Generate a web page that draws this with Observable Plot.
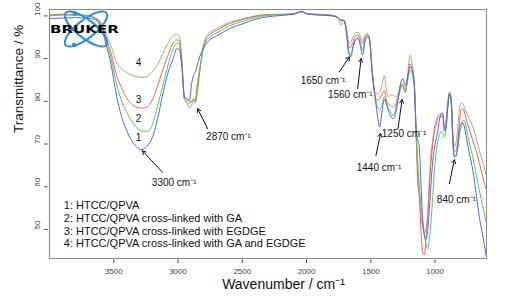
<!DOCTYPE html>
<html><head><meta charset="utf-8">
<script src="https://cdn.jsdelivr.net/npm/d3@7"></script>
<script src="https://cdn.jsdelivr.net/npm/@observablehq/plot@0.6"></script>
<style>
body{margin:0;background:#fff;}
#chart{position:relative;width:519px;height:302px;}
</style></head><body><div id="chart"></div>
<script>
// Wavenumber grid (cm-1), high to low
const wavenumbers = [
4000,3900,3800,3700,3650,3600,
3560,3520,3480,3440,3400,3360,3320,3280,3240,3200,3160,3120,3080,3040,3010,2990,
2970,2950,2930,2910,2895,2880,2865,2850,2830,2800,2760,2700,2600,2500,2400,2300,2200,2100,2040,2000,1900,1800,
1760,1730,1710,1690,1670,1655,1640,1620,1600,1585,1565,1545,1525,1510,1490,1465,1445,1432,1415,1395,1380,1365,1345,1325,1305,1285,1265,1250,1232,1215,1195,1180,
1161,1148,1135,1122,1109,1096,1083,1070,1057,1044,1031,1018,1005,992,979,967,953,940,928,914,901,889,875,862,850,836,823,811,798,784,772,759,735,706,681,655,626,600];

// 1: HTCC/QPVA (blue)
const series1 = [
99.4,99.5,99.6,99.5,99.2,97.3,
93.3,88.5,81.5,76.5,73.2,70.8,69.3,68.7,69.5,71.5,75.8,81.5,86.5,89.8,92.3,92.2,
88,81,80.5,80.2,84,86,87,88.5,90.5,92.5,94.2,95.3,97,98.1,99.2,99.8,100.1,100.4,101.1,100.5,100.2,100,
99.6,99,99,96,91,90.8,92.5,94.3,94.7,93.5,90.8,94,95.1,94.3,86.5,80.5,76,74,77,80.5,79.5,78,76.5,75.9,77.5,81,84.5,85.3,83.7,85.5,88,87.5,
84,74,71,69,60,52,48.5,47.7,50,55,61,66,69,71,73,75.5,77,77.2,73,74,79,81.8,80.5,71,67,67.3,70,73,74.8,75,74,72,68,63.8,58.5,52.8,48,43.4];

// 2: cross-linked with GA (green)
const series2 = [
100.0,100.2,100.2,100.0,99.5,97.8,
94.3,90.0,84.3,80.2,77.5,75.3,73.8,73.0,73.0,74.5,78.8,83.5,88.2,92.2,93.6,93.4,
88,80.5,79.5,78.6,79,80,80.5,84,88,92.5,94.9,96,97.7,98.7,99.6,100.1,100.3,100.4,100.9,100.5,100.2,100,
99.6,99,99,96.5,91.5,90.4,92.5,94.5,95,94,92,94.5,95.5,94.5,87,81,78.5,77.9,79,81,80,78.5,77.5,76.7,78.5,81,83,83.7,82.1,84.5,87.3,86.5,
83,74,66,60,55.2,52,49,46.5,45.5,48,52,58,64,68,70.5,72,73,72.5,71.6,74,78.5,81.4,79.5,70,67,67.5,69,72,74,75.5,75.5,74,70.5,66.9,63,59.1,55,51.3];

// 3: cross-linked with EGDGE (red)
const series3 = [
100.2,100.4,100.3,100.1,99.6,98.2,
94.8,91.2,86.3,83.2,80.8,79.3,78.6,78.4,78.7,80.3,83.5,87.2,90.6,93.5,94.4,94.2,
89,80.5,80,79.5,80,80.5,80,83,87.5,93,95.5,96.6,98.2,99.1,99.9,100.3,100.4,100.5,101,100.6,100.3,100.1,
99.7,98.8,99,97,92.5,92.7,93.8,95.3,95.5,94.8,93.5,95,95.5,94.5,87.5,81,80.2,80.5,81.5,82.5,80.5,79.4,79,78.6,79.5,81.5,83.7,83.5,82.1,85,88.8,87.5,
83,72,61.4,57.5,49.5,44.5,44,48,53,60,66,70,73,74.5,76,76.5,76.3,76.7,73.5,75,79,81.8,80,72,68.3,68.5,71,75,78,78.2,77.5,76,73.5,70.8,68.5,65.4,62,59.1];

// 4: cross-linked with GA and EGDGE (tan)
const series4 = [
100.1,100.3,100.2,100.0,99.6,98.5,
95.6,93.0,89.2,87.6,86.7,86.1,85.8,85.6,85.9,86.9,88.6,91.0,93.5,95.3,95.7,95.3,
90,81,80.5,80,79.8,80.5,79.5,82,87,93.5,96,97,98.5,99.3,100,100.3,100.3,100.5,101,100.6,100.4,100.2,
99.8,97.8,99,97,93.5,93.8,95,96,96.2,95.5,94.3,95.5,95.9,95,88,82,81.8,82,83.5,86,83,81,81.5,81.4,81,82,84.1,84,82.9,86,90.8,89,
84,73,63,57,52.8,50.5,49,50.5,54,62,68,71,74,75.5,76.5,77,77,76.5,74,76,80,82.2,81,73,69.5,70.5,74,78,79.5,79.4,78.5,77.5,76,74,71.5,68.5,65.5,62.6];

const seriesIds = ["4","3","2","1"];
const seriesValues = {"1": series1, "2": series2, "3": series3, "4": series4};
const seriesColors = {"1": "#5c5cff", "2": "#40d840", "3": "#ff5c5c", "4": "#b8a878"};

// Curve number labels
const curveLabels = ["1","2","3","4"];
const curveLabelX = [3308,3308,3308,3308];
const curveLabelY = [71.5,75.8,80.4,89.0];

// Legend lines
const legendLines = [
  "1: HTCC/QPVA",
  "2: HTCC/QPVA cross-linked with GA",
  "3: HTCC/QPVA cross-linked with EGDGE",
  "4: HTCC/QPVA cross-linked with GA and EGDGE"];
const legendX = 3889;
const legendY = [55.7, 52.6, 49.6, 46.7];

// Peak annotations
const annLabels = ["3300 cm⁻¹","2870 cm⁻¹","1650 cm⁻¹","1560 cm⁻¹","1440 cm⁻¹","1250 cm⁻¹","840 cm⁻¹"];
const annTailX = [3121, 2770, 1745, 1602, 1460, 1288, 889];
const annTailY = [63.4, 73.6, 86.9, 83.0, 67.3, 73.6, 60.7];
const annHeadX = [3277, 2848, 1667, 1576, 1424, 1257, 850];
const annHeadY = [68.4, 78.3, 90.4, 90.0, 72.5, 80.4, 66.3];
const annTextX = [3030, 2608, 1872, 1660, 1436, 1241, 834];
const annTextY = [61.0, 71.6, 84.9, 81.5, 64.4, 72.4, 57.0];

const xTicks = [3500,3000,2500,2000,1500,1000];
const yTicks = [50,60,70,80,90,100];

const font = "'Liberation Sans', Arial, sans-serif";

const lineMarks = seriesIds.map(id => Plot.line(
  wavenumbers.map((w, i) => ({w, t: seriesValues[id][i]})),
  {x: "w", y: "t", stroke: seriesColors[id], strokeWidth: 1, curve: "monotone-x"}
));

const anns = annLabels.map((label, i) => ({label, x1: annTailX[i], y1: annTailY[i], x2: annHeadX[i], y2: annHeadY[i], tx: annTextX[i], ty: annTextY[i]}));

const svg = Plot.plot({
  width: 519, height: 302,
  marginLeft: 49, marginRight: 33, marginTop: 9, marginBottom: 44,
  style: {fontFamily: font, background: "white", overflow: "visible"},
  x: {domain: [4000, 600]},
  y: {domain: [43.2, 101.5]},
  marks: [
    ...lineMarks,
    Plot.frame({stroke: "#8a8a8a"}),
    Plot.axisX(xTicks, {tickSize: 3.5, tickPadding: 5, dy: 1.5, fontSize: 8, color: "#444", label: null, tickFormat: d => String(d)}),
    Plot.axisY(yTicks, {tickSize: 3.5, dx: -1.5, fill: "none", stroke: "#444", label: null}),
    Plot.text(yTicks, {y: d => d, text: d => String(d), frameAnchor: "left", dx: -12, rotate: -90, fontSize: 8, fill: "#444"}),
    Plot.text(curveLabels, {x: (d, i) => curveLabelX[i], y: (d, i) => curveLabelY[i], text: d => d, fontSize: 10, fill: "#111"}),
    Plot.arrow(anns, {x1: "x1", y1: "y1", x2: "x2", y2: "y2", stroke: "#111", strokeWidth: 1, headLength: 6, bend: 0}),
    Plot.text(anns, {x: "tx", y: "ty", text: "label", fontSize: 10, fill: "#111"}),
    Plot.text(legendLines, {x: legendX, y: (d, i) => legendY[i], text: d => d, textAnchor: "start", fontSize: 11, fill: "#111"}),
    Plot.text(["Wavenumber / cm⁻¹"], {frameAnchor: "bottom", dx: 15.5, dy: 30, fontSize: 14, fill: "#111"}),
    Plot.text(["Transmittance / %"], {frameAnchor: "left", dx: -31, dy: -1, rotate: -90, fontSize: 13.5, fill: "#111"})
  ]
});
document.getElementById("chart").appendChild(svg);

// Decorative Bruker logo (not data)
const g = d3.select(svg).append("g").attr("class", "logo");
const logoBlue = "#2a8be6";
[[-38, 26, 9], [38, 26, 9]].forEach(([rot, rx, ry]) => {
  g.append("ellipse").attr("cx", 86).attr("cy", 29).attr("rx", rx).attr("ry", ry)
    .attr("transform", `rotate(${rot} 86 29)`)
    .attr("fill", "none").attr("stroke", logoBlue).attr("stroke-width", 2);
});
g.append("circle").attr("cx", 75).attr("cy", 13.5).attr("r", 2.2).attr("fill", logoBlue);
g.append("circle").attr("cx", 74).attr("cy", 45).attr("r", 2.2).attr("fill", logoBlue);
g.append("text").attr("x", 50).attr("y", 33.3).attr("text-anchor", "start")
  .attr("font-family", "'DejaVu Sans', sans-serif")
  .attr("font-weight", "bold").attr("font-size", 10.5).attr("textLength", 69)
  .attr("lengthAdjust", "spacingAndGlyphs").attr("fill", "#000").text("BRUKER");
</script>
</body></html>
